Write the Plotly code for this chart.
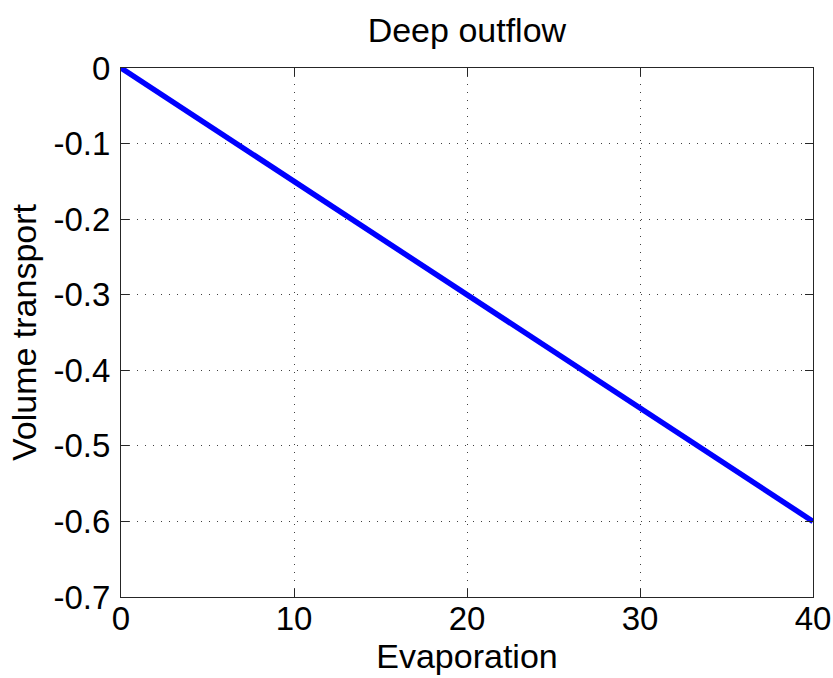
import plotly.graph_objects as go

evaporation = [0, 5, 10, 15, 20, 25, 30, 35, 40]
volume_transport = [0.0, -0.075, -0.15, -0.225, -0.30, -0.375, -0.45, -0.525, -0.60]
x_ticks = [0, 10, 20, 30, 40]
y_ticks = [0, -0.1, -0.2, -0.3, -0.4, -0.5, -0.6, -0.7]
y_tick_text = ["0", "-0.1", "-0.2", "-0.3", "-0.4", "-0.5", "-0.6", "-0.7"]

FONT = "Liberation Sans, Arial, sans-serif"
FS = 33
FT = 34

fig = go.Figure()
fig.add_trace(go.Scatter(x=evaporation, y=volume_transport, mode="lines",
                         line=dict(color="#0000FF", width=5.5), showlegend=False))

axis_common = dict(
    showline=True, linecolor="#262626", linewidth=1.2, mirror="ticks",
    ticks="inside", ticklen=8, tickwidth=1, tickcolor="#262626",
    showgrid=True, gridcolor="#404040", gridwidth=1, griddash="1px,7px",
    zeroline=False, automargin=False,
    tickfont=dict(family=FONT, size=FS, color="#000000"),
)

fig.update_layout(
    width=833, height=678,
    margin=dict(l=121, r=20, t=68, b=81),
    paper_bgcolor="white", plot_bgcolor="white",
    title=dict(text="Deep outflow", x=0.5605, xanchor="center", y=0.955, yanchor="middle",
               font=dict(family=FONT, size=FT, color="#000000")),
    xaxis=dict(range=[0, 40], tickvals=x_ticks, ticktext=[str(v) for v in x_ticks],
               title=dict(text="Evaporation", standoff=7, font=dict(family=FONT, size=FT, color="#000000")),
               ticklabelstandoff=-8, **axis_common),
    yaxis=dict(range=[-0.7, 0], tickvals=y_ticks, ticktext=y_tick_text,
               title=dict(text="Volume transport", standoff=6, font=dict(family=FONT, size=FT, color="#000000")),
               ticklabelstandoff=3, **axis_common),
)

fig.write_html("out.html")
